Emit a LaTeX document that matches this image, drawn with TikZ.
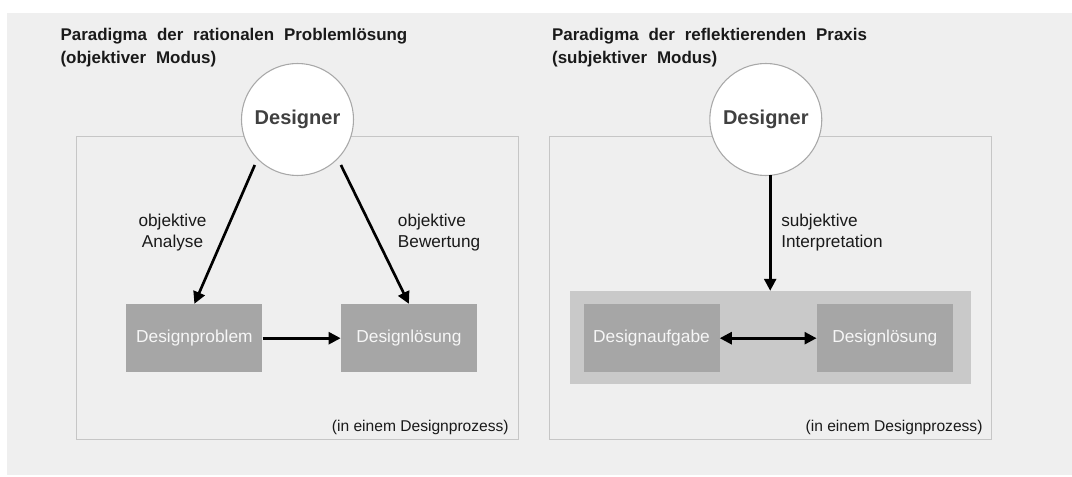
\documentclass[tikz,border=0pt]{standalone}
\usepackage{fontspec}
\setmainfont{Liberation Sans}
\newfontfamily\headfont[WordSpace=2.1]{Liberation Sans}
\usetikzlibrary{arrows.meta}

\definecolor{canvas}{HTML}{EFEFEF}
\definecolor{frameline}{HTML}{C6C6C6}
\definecolor{ringline}{HTML}{A8A8A8}
\definecolor{boxfill}{HTML}{A6A6A6}
\definecolor{bandfill}{HTML}{C9C9C9}
\definecolor{boxtext}{HTML}{F6F6F6}
\definecolor{nametext}{HTML}{404040}
\definecolor{inktext}{HTML}{1A1A1A}

\tikzset{
  heading/.style={anchor=base west, inner sep=0pt, text=inktext,
    font=\headfont\bfseries\fontsize{12.7}{16}\selectfont},
  panel/.style={draw=frameline, line width=0.8pt, fill=canvas,
    minimum width=331.4pt, minimum height=227.5pt, inner sep=0pt},
  actor/.style={circle, draw=ringline, line width=0.8pt, fill=white,
    minimum size=84pt, inner sep=0pt, text=nametext,
    font=\bfseries\fontsize{15}{18}\selectfont},
  artefact/.style={fill=boxfill, minimum width=102pt, minimum height=51.2pt,
    inner sep=0pt, text=boxtext, font=\fontsize{13}{16}\selectfont},
  band/.style={fill=bandfill, minimum width=301pt, minimum height=70pt,
    inner sep=0pt},
  edgelabel/.style={inner sep=0pt, text=inktext,
    font=\fontsize{12.9}{16.3}\selectfont},
  note/.style={anchor=base east, inner sep=0pt, text=inktext,
    font=\fontsize{11.7}{14}\selectfont},
  flow/.style={line width=2pt, -{Triangle[length=9pt,width=9pt]}},
  flowboth/.style={line width=2pt,
    {Triangle[length=9pt,width=9pt]}-{Triangle[length=9pt,width=9pt]}}
}

\begin{document}
\begin{tikzpicture}[x=0.75pt,y=-0.75pt]
\useasboundingbox (0,0) rectangle (1072,477);
\fill[white] (0,0) rectangle (1072,477);
\fill[canvas] (7,13) rectangle (1072,475);

% ---- rational problem solving ----
\node[heading] (h1a) at (60.3,41) {Paradigma der rationalen Problemlösung};
\node[heading] (h1b) at (60.3,63.3) {(objektiver Modus)};

\node[panel] (p1) at (297.3,288) {};
\node[note] (n1) at (509,431.7) {(in einem Designprozess)};

\node[actor] (d1) at (297.5,119.5) {Designer};

\node[artefact] (prob) at (194.4,338.2) {Designproblem};
\node[artefact] (sol1) at (408.9,338.2) {Designlösung};

\coordinate (a1) at (254.8,165);
\coordinate (a2) at (340.9,165);
\draw[flow] (a1) -- (prob.north);
\draw[flow] (a2) -- (sol1.north);
\draw[flow] (prob.east) -- (sol1.west);

\node[edgelabel, align=center] (l1) at (172.5,232.5) {objektive\\Analyse};
\node[edgelabel, align=left, anchor=west] (l2) at (397.7,232.5) {objektive\\Bewertung};

% ---- reflective practice ----
\node[heading] (h2a) at (551.9,41) {Paradigma der reflektierenden Praxis};
\node[heading] (h2b) at (551.9,63.3) {(subjektiver Modus)};

\node[panel] (p2) at (770.4,288.3) {};
\node[note] (n2) at (982.8,431.7) {(in einem Designprozess)};

\node[actor] (d2) at (765.8,119.5) {Designer};

\node[band] (bd) at (770.2,337.7) {};
\node[artefact] (task) at (651.5,338.2) {Designaufgabe};
\node[artefact] (sol2) at (884.8,338.2) {Designlösung};

\coordinate (a3) at (770.2,175.5);
\draw[flow] (a3) -- (bd.north);
\draw[flowboth] (task.east) -- (sol2.west);

\node[edgelabel, align=left, anchor=west] (l3) at (781,232.5) {subjektive\\Interpretation};
\end{tikzpicture}
\end{document}
